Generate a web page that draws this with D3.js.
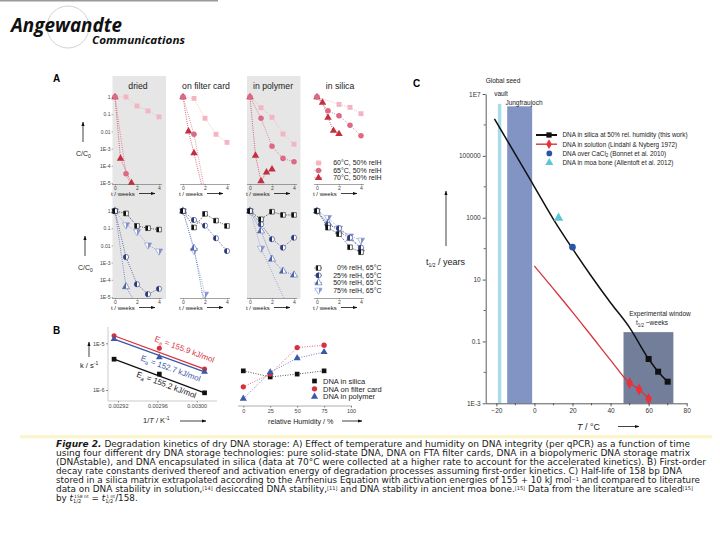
<!DOCTYPE html>
<html>
<head>
<meta charset="utf-8">
<script src="https://cdn.jsdelivr.net/npm/d3@7"></script>
<style>
  body { margin: 0; background: #fff; }
  svg { display: block; font-family: "Liberation Sans", Arial, sans-serif; }
</style>
</head>
<body>
<svg id="fig" width="720" height="540"></svg>
<script>

// ---------- panel A data ----------
const methods = ['dried', 'on filter card', 'in polymer', 'in silica'];
const tempLabels = ['60°C, 50% relH', '65°C, 50% relH', '70°C, 50% relH'];
const humLabels = ['0% relH, 65°C', '25% relH, 65°C', '50% relH, 65°C', '75% relH, 65°C'];
const weekTicks = [0, 2, 4];
const ccTicks = [1, 0.1, 0.01, 1e-3, 1e-4, 1e-5];
const ccTickLabels = ['1', '0.1', '0.01', '1E-3', '1E-4', '1E-5'];

// [method][series] -> weeks / C/C0
const tempWeeks = [
  [[0, 1, 2, 3, 4], [0, 1, 2], [0, 0.5, 1.5]],
  [[0, 1, 2, 3, 4], [0, 1, 2], [0, 0.5, 1, 1.8]],
  [[0, 1, 2, 3, 4], [0, 1, 2, 3, 4], [0, 0.5, 1, 1.5, 2]],
  [[0, 2, 3, 4], [0, 1, 2, 3, 4], [0, 0.5, 1, 1.5, 2]]
];
const tempCC = [
  [[1, 1, 0.30, 0.155, 0.07], [1, 3.5e-5, 1e-6], [1, 2.6e-4, 1e-5]],
  [[1, 0.83, 0.058, 6.8e-3, 2.3e-3], [1, 6.8e-3, 3e-6], [1, 1e-2, 5.5e-4, 4e-6]],
  [[1, 0.24, 0.066, 7.1e-3, 1.8e-3], [1, 0.058, 1.35e-3, 2.7e-4, 1.7e-4], [1, 3.9e-4, 1.3e-5, 4.2e-5, 6.3e-5]],
  [[1, 0.37, 0.25, 0.107], [1, 0.16, 0.081, 0.023, 5.6e-3], [1, 0.47, 0.063, 0.011, 7.1e-3]]
];
const humWeeks = [
  [[0, 1, 2, 3, 4], [0, 1, 2, 3, 4], [0, 1, 2], [0, 1, 2, 3, 4]],
  [[0, 1, 2, 3, 4], [0, 1, 2, 3, 4], [0, 1, 2], [0, 1, 2]],
  [[0, 1, 2, 3, 4], [0, 1, 2, 3, 4], [0, 1, 2, 3, 4], [0, 1, 3.4]],
  [[0, 1, 2, 3, 4], [0, 1, 2, 3, 4], [0, 1, 2, 3, 4], [0, 1, 2, 3, 4]]
];
const humCC = [
  [[1, 0.72, 0.135, 0.1, 0.083], [1, 2.1e-3, 5.5e-5, 1.45e-5, 3e-5], [1, 4e-5, 3e-6], [1, 0.155, 0.063, 0.0105, 4.7e-3]],
  [[1, 0.11, 0.68, 0.275, 0.135], [1, 0.3, 0.14, 0.026, 4.7e-3], [1, 6.8e-3, 2.5e-6], [1, 5e-3, 1.45e-5]],
  [[1, 0.33, 0.91, 0.59, 0.59], [1, 0.17, 0.023, 7.4e-3, 0.028], [1, 0.069, 1.6e-3, 3.2e-4, 1.9e-4], [1, 6.8e-3, 3e-6]],
  [[1, 0.107, 0.045, 7.8e-3, 4e-3], [1, 0.155, 0.1, 0.028, 7.4e-3], [1, 0.2, 0.063, 0.025, 6.3e-3], [1, 0.41, 0.1, 0.035, 0.02]]
];

// ---------- panel B data ----------
const storageB = ['DNA in silica', 'DNA on filter card', 'DNA in polymer'];
const invTemp = [0.002916, 0.002962, 0.003008];
const invTempTicks = [0.00292, 0.00296, 0.00300];
const kSilica = [4.57e-6, 2.19e-6, 8.7e-7];
const kFilter = [1.45e-5, 7.8e-6, 2.8e-6];
const kPolymer = [1.23e-5, 5.0e-6, 2.45e-6];
const eaValues = ['155.2', '155.9', '152.7'];
const relHum = [0, 25, 50, 75];
const relHumTicks = [0, 25, 50, 75, 100];
const kHumSilica = [2.57e-6, 1.9e-6, 2.19e-6, 2.57e-6];
const kHumFilter = [1.17e-6, 2.19e-6, 8.1e-6, 9.1e-6];
const kHumPolymer = [6.5e-7, 2.4e-6, 4.8e-6, 6.5e-6];

// ---------- panel C data ----------
const silicaCurveT = [-21, -10, 0, 10, 20, 30, 40, 50, 60, 65, 70];
const silicaCurveYears = [1.58e6, 1.12e5, 1e4, 891, 100, 12.6, 1.78, 0.28, 0.027, 0.0105, 0.005];
const silicaPtsT = [60, 65, 70];
const silicaPtsYears = [0.027, 0.0105, 0.005];
const solCurveT = [0, 10, 20, 30, 40, 50, 55, 60];
const solCurveYears = [27.5, 5.0, 0.89, 0.15, 0.025, 4.5e-3, 2.8e-3, 1.4e-3];
const solPtsT = [50, 55, 60];
const solPtsYears = [4.5e-3, 2.8e-3, 1.4e-3];
const cacl2T = [20];
const cacl2Years = [112];
const moaT = [12.7];
const moaYears = [980];
const legendC = ['DNA in silica at 50% rel. humidity (this work)', 'DNA in solution (Lindahl & Nyberg 1972)',
  'DNA over CaCl', 'DNA in moa bone (Allentoft et al. 2012)'];
const yearTicks = [1e7, 1e5, 1e3, 10, 0.1, 1e-3];
const yearTickLabels = ['1E7', '100000', '1000', '10', '0.1', '1E-3'];
const yearMinor = [1e6, 1e4, 100, 1, 0.01];
const tempTicks = [-20, 0, 20, 40, 60, 80];
const tempMinor = [-10, 10, 30, 50, 70];

const svg = d3.select('#fig');
const defs = svg.append('defs');

defs.append('marker')
  .attr('id', 'arrow')
  .attr('viewBox', '0 0 10 10')
  .attr('refX', 9).attr('refY', 5)
  .attr('markerWidth', 6).attr('markerHeight', 6)
  .attr('orient', 'auto')
  .append('path')
  .attr('d', 'M0,1.5L10,5L0,8.5z')
  .attr('fill', '#111');

function arrow(x1, y1, x2, y2) {
  svg.append('line')
    .attr('x1', x1).attr('y1', y1).attr('x2', x2).attr('y2', y2)
    .attr('stroke', '#111').attr('stroke-width', 0.8)
    .attr('marker-end', 'url(#arrow)');
}

function halfFill(id, color) {
  const gr = defs.append('linearGradient').attr('id', id)
    .attr('x1', 0).attr('x2', 1).attr('y1', 0).attr('y2', 0);
  gr.append('stop').attr('offset', '50%').attr('stop-color', color);
  gr.append('stop').attr('offset', '50%').attr('stop-color', '#fff');
}

function styleTicks(axis, size, color) {
  axis.selectAll('text').style('font-size', size + 'px').attr('fill', color)
    .style('font-family', '"Liberation Sans", Arial, sans-serif');
}

// ---------- header ----------
svg.append('line').attr('x1', 0).attr('x2', 218).attr('y1', 0.8).attr('y2', 0.8)
  .attr('stroke', '#9a9a9a').attr('stroke-width', 1.5);
svg.append('circle').attr('cx', 68).attr('cy', 27).attr('r', 21)
  .attr('fill', 'none').attr('stroke', '#c8c8c8').attr('stroke-width', 0.8);
svg.append('text').attr('x', 11).attr('y', 31.5)
  .attr('textLength', 111).attr('lengthAdjust', 'spacingAndGlyphs')
  .style('font-family', '"Open Sans", sans-serif').style('font-weight', 'bold').style('font-style', 'italic')
  .style('font-size', '19px').attr('fill', '#111').text('Angewandte');
svg.append('text').attr('x', 92).attr('y', 44)
  .attr('textLength', 93).attr('lengthAdjust', 'spacingAndGlyphs')
  .style('font-family', '"Open Sans", sans-serif').style('font-weight', 'bold').style('font-style', 'italic')
  .style('font-size', '10.5px').attr('fill', '#111').text('Communications');

// panel letters
[['A', 53, 82], ['B', 53, 334], ['C', 413, 87]].forEach((d) => {
  svg.append('text').attr('x', d[1]).attr('y', d[2])
    .style('font-weight', 'bold').style('font-size', '10px').text(d[0]);
});

// ---------- panel A ----------
const colX = [115, 183, 250, 317];

[112.5, 247].forEach((x) => {
  svg.append('rect').attr('x', x).attr('y', 76).attr('width', 53.5).attr('height', 223)
    .attr('fill', '#e6e6e6');
});

methods.forEach((m, c) => {
  svg.append('text').attr('x', colX[c] + 23).attr('y', 89)
    .attr('text-anchor', 'middle').style('font-size', '8.7px').attr('fill', '#222').text(m);
});

const tempStyles = [
  { type: d3.symbolSquare, size: 24, fill: '#f3b5c2', stroke: 'none', line: '#f0a9b8' },
  { type: d3.symbolCircle, size: 24, fill: '#dd6a84', stroke: 'none', line: '#d85c78' },
  { type: d3.symbolTriangle, size: 24, fill: '#c22f3f', stroke: 'none', line: '#c22f3f' }
];
halfFill('hf0', '#111');
halfFill('hf1', '#2c3b7a');
halfFill('hf2', '#4a64ad');
halfFill('hf3', '#8290cc');
const humStyles = [
  { type: d3.symbolSquare, size: 22, fill: 'url(#hf0)', stroke: '#111', line: '#111' },
  { type: d3.symbolCircle, size: 22, fill: 'url(#hf1)', stroke: '#2c3b7a', line: '#2c3b7a' },
  { type: d3.symbolTriangle, size: 22, fill: 'url(#hf2)', stroke: '#4a64ad', line: '#4a64ad' },
  { type: d3.symbolTriangle, size: 22, fill: 'url(#hf3)', stroke: '#8290cc', line: '#8290cc', flip: true }
];

const rowsA = [
  { top: 97, bottom: 183, weeks: tempWeeks, cc: tempCC, styles: tempStyles, labels: tempLabels,
    order: [0, 2, 1], legendY: 163, arrowX: 83 },
  { top: 211, bottom: 297, weeks: humWeeks, cc: humCC, styles: humStyles, labels: humLabels,
    order: [3, 2, 1, 0], legendY: 268, arrowX: 85 }
];

function marker(g, st, x, y) {
  g.append('path')
    .attr('d', d3.symbol().type(st.type).size(st.size)())
    .attr('transform', `translate(${x},${y})` + (st.flip ? ' rotate(180)' : ''))
    .attr('fill', st.fill)
    .attr('stroke', st.stroke).attr('stroke-width', 0.6);
}

rowsA.forEach((row, r) => {
  const y = d3.scaleLog().domain([1e-5, 1]).range([row.bottom, row.top]);

  methods.forEach((m, c) => {
    const x = d3.scaleLinear().domain([0, 4]).range([colX[c], colX[c] + 44]);
    const clipId = `clipA${r}${c}`;
    defs.append('clipPath').attr('id', clipId).append('rect')
      .attr('x', colX[c] - 5).attr('y', row.top - 6)
      .attr('width', 56).attr('height', row.bottom - row.top + 8);
    const plot = svg.append('g').attr('clip-path', `url(#${clipId})`);

    const line = d3.line().x((d) => x(d[0])).y((d) => y(d[1]));

    row.order.forEach((s) => {
      const pts = row.weeks[c][s].map((w, i) => [w, row.cc[c][s][i]]);
      plot.append('path').datum(pts).attr('d', line)
        .attr('fill', 'none').attr('stroke', row.styles[s].line)
        .attr('stroke-width', 0.8).attr('stroke-dasharray', '0.9,1.3');
    });
    row.order.forEach((s) => {
      row.weeks[c][s].forEach((w, i) => {
        marker(plot, row.styles[s], x(w), y(row.cc[c][s][i]));
      });
    });

    const xAxis = svg.append('g')
      .attr('transform', `translate(0,${row.bottom + 1})`)
      .call(d3.axisBottom(x).tickValues(weekTicks).tickFormat(d3.format('d'))
        .tickSize(1.5).tickSizeOuter(0).tickPadding(1));
    xAxis.select('.domain').attr('stroke', '#666').attr('stroke-width', 0.6)
      .attr('d', `M${colX[c] - 3},0.5H${colX[c] + 47}`);
    xAxis.selectAll('.tick line').attr('stroke', '#666').attr('stroke-width', 0.5);
    styleTicks(xAxis, 5, '#444');

    svg.append('text').attr('x', colX[c] - 4).attr('y', row.bottom + 12.5)
      .style('font-size', '6px').attr('fill', '#222').text('t / weeks');
    arrow(colX[c] + 24, row.bottom + 10.5, colX[c] + 40, row.bottom + 10.5);

    if (c === 0) {
      const yAxis = svg.append('g').attr('transform', 'translate(113,0)')
        .call(d3.axisLeft(y).tickValues(ccTicks).tickFormat((d, i) => ccTickLabels[i])
          .tickSize(1.5).tickPadding(1));
      yAxis.select('.domain').remove();
      yAxis.selectAll('.tick line').attr('stroke', '#666').attr('stroke-width', 0.5);
      styleTicks(yAxis, 5, '#444');
    }
  });

  // C/C0 axis title
  const ty = svg.append('text').attr('x', row.arrowX - 7).attr('y', (row.top + row.bottom) / 2 + 16)
    .style('font-size', '7px').attr('fill', '#222');
  ty.append('tspan').text('C/C');
  ty.append('tspan').attr('dy', 1.5).style('font-size', '5px').text('0');
  arrow(row.arrowX, (row.top + row.bottom) / 2 + 2, row.arrowX, (row.top + row.bottom) / 2 - 18);

  // legend inside silica column
  row.labels.forEach((lab, i) => {
    const ly = row.legendY + i * 7.4;
    svg.append('line').attr('x1', 314.5).attr('x2', 322).attr('y1', ly).attr('y2', ly)
      .attr('stroke', row.styles[i].line).attr('stroke-width', 0.8).attr('stroke-dasharray', '0.9,1.3');
    marker(svg, row.styles[i], 318.5, ly);
    svg.append('text').attr('x', 381.5).attr('y', ly + 2.4).attr('text-anchor', 'end')
      .style('font-size', '7px').attr('fill', '#222').text(lab);
  });
});

// ---------- panel B ----------
const xB = d3.scaleLinear().domain([0.00292, 0.00300]).range([118, 196.7]);
const yB = d3.scaleLog().domain([1e-6, 1e-5]).range([390, 343.3]);
const colorsB = ['#111', '#d7313e', '#3c58a7'];
const symB = [d3.symbolSquare, d3.symbolCircle, d3.symbolTriangle];
const kB = [kSilica, kFilter, kPolymer];
const kHum = [kHumSilica, kHumFilter, kHumPolymer];

svg.append('line').attr('x1', 108).attr('x2', 108).attr('y1', 327).attr('y2', 401)
  .attr('stroke', '#aaa').attr('stroke-width', 0.6);
svg.append('line').attr('x1', 108).attr('x2', 217).attr('y1', 401).attr('y2', 401)
  .attr('stroke', '#aaa').attr('stroke-width', 0.6);

const xBAxis = svg.append('g').attr('transform', 'translate(0,401)')
  .call(d3.axisBottom(xB).tickValues(invTempTicks).tickFormat(d3.format('.5f'))
    .tickSize(1.5).tickSizeOuter(0).tickPadding(2));
xBAxis.select('.domain').remove();
xBAxis.selectAll('.tick line').attr('stroke', '#888');
styleTicks(xBAxis, 5.5, '#444');

const yBAxis = svg.append('g').attr('transform', 'translate(108,0)')
  .call(d3.axisLeft(yB).tickValues([1e-5, 1e-6]).tickFormat((d) => (d > 5e-6 ? '1E-5' : '1E-6'))
    .tickSize(2).tickPadding(1.5));
yBAxis.select('.domain').remove();
yBAxis.selectAll('.tick line').attr('stroke', '#888');
styleTicks(yBAxis, 5.5, '#444');

// fits drawn from first to last point, with Ea labels
const eaPlace = [
  { x: 139, off: 8.5 },
  { x: 151, off: -9 },
  { x: 144, off: 11 }
];
[0, 2, 1].forEach((s) => {
  const k = kB[s];
  const x1 = xB(invTemp[0]); const y1 = yB(k[0]);
  const x2 = xB(invTemp[2]); const y2 = yB(k[2]);
  svg.append('line').attr('x1', x1).attr('y1', y1).attr('x2', x2).attr('y2', y2)
    .attr('stroke', colorsB[s]).attr('stroke-width', 1.3);
  const ang = Math.atan2(y2 - y1, x2 - x1);
  const px = eaPlace[s].x;
  const py = y1 + (px - x1) * Math.tan(ang);
  const t = svg.append('text')
    .attr('transform', `translate(${px - Math.sin(ang) * eaPlace[s].off},${py + Math.cos(ang) * eaPlace[s].off}) rotate(${ang * 180 / Math.PI})`)
    .style('font-size', '8px').attr('fill', colorsB[s]);
  t.append('tspan').text('E');
  t.append('tspan').attr('dy', 2).style('font-size', '5.5px').text('a');
  t.append('tspan').attr('dy', -2).text(` = ${eaValues[s]} kJ/mol`);
});
[0, 1, 2].forEach((s) => {
  invTemp.forEach((v, i) => {
    svg.append('path').attr('d', d3.symbol().type(symB[s]).size(s === 0 ? 22 : 20)())
      .attr('transform', `translate(${xB(v)},${yB(kB[s][i])})`)
      .attr('fill', colorsB[s]);
  });
});

const tB = svg.append('text').attr('x', 80).attr('y', 368).style('font-size', '7.5px').attr('fill', '#222');
tB.append('tspan').text('k / s');
tB.append('tspan').attr('dy', -3).style('font-size', '5px').text('-1');
arrow(89, 357, 89, 342);

const tB2 = svg.append('text').attr('x', 143).attr('y', 423).style('font-size', '7.5px').attr('fill', '#222');
tB2.append('tspan').text('1/');
tB2.append('tspan').style('font-style', 'italic').text('T');
tB2.append('tspan').text(' / K');
tB2.append('tspan').attr('dy', -3).style('font-size', '5px').text('-1');
arrow(180, 421, 206, 421);

// humidity plot
const xH = d3.scaleLinear().domain([0, 100]).range([243.3, 351]);
svg.append('line').attr('x1', 238).attr('x2', 352).attr('y1', 406).attr('y2', 406)
  .attr('stroke', '#777').attr('stroke-width', 0.6);
const xHAxis = svg.append('g').attr('transform', 'translate(0,406)')
  .call(d3.axisBottom(xH).tickValues(relHumTicks).tickSize(1.5).tickSizeOuter(0).tickPadding(2));
xHAxis.select('.domain').remove();
xHAxis.selectAll('.tick line').attr('stroke', '#777');
styleTicks(xHAxis, 5.5, '#444');

const lineH = d3.line().x((d) => xH(d[0])).y((d) => yB(d[1]));
[0, 1, 2].forEach((s) => {
  svg.append('path').datum(relHum.map((h, i) => [h, kHum[s][i]])).attr('d', lineH)
    .attr('fill', 'none').attr('stroke', colorsB[s]).attr('stroke-width', 0.8)
    .attr('stroke-dasharray', '0.9,1.6');
});
[0, 1, 2].forEach((s) => {
  relHum.forEach((h, i) => {
    svg.append('path').attr('d', d3.symbol().type(symB[s]).size(22)())
      .attr('transform', `translate(${xH(h)},${yB(kHum[s][i])})`)
      .attr('fill', colorsB[s]);
  });
});
storageB.forEach((lab, i) => {
  const ly = 381 + i * 7.8;
  svg.append('path').attr('d', d3.symbol().type(symB[i]).size(22)())
    .attr('transform', `translate(314.5,${ly})`).attr('fill', colorsB[i]);
  svg.append('text').attr('x', 323).attr('y', ly + 2.7)
    .style('font-size', '7.5px').attr('fill', '#222').text(lab);
});
svg.append('text').attr('x', 268).attr('y', 423.5).style('font-size', '7.2px').attr('fill', '#222')
  .text('relative Humidity / %');
arrow(342, 421, 362, 421);

// ---------- panel C ----------
const xC = d3.scaleLinear().domain([-25.6, 80]).range([485.7, 686.7]);
const yC = d3.scaleLog().domain([1e-3, 1e7]).range([403.3, 94]);

// storage condition bands
const bandFrom = [-19.2, -14.3, 46.8];
const bandTo = [-17.4, -1.2, 73.0];
const bandTop = [4.8e6, 4.0e6, 0.2];
const bandColor = ['#a9dbe8', '#8194c4', '#737e9b'];
bandFrom.forEach((f, i) => {
  svg.append('rect').attr('x', xC(f)).attr('y', yC(bandTop[i]))
    .attr('width', xC(bandTo[i]) - xC(f)).attr('height', yC(1e-3) - yC(bandTop[i]))
    .attr('fill', bandColor[i]);
});

const yCAxis = svg.append('g').attr('transform', `translate(${xC(-25.6)},0)`)
  .call(d3.axisLeft(yC).tickValues(yearTicks).tickFormat((d, i) => yearTickLabels[i])
    .tickSize(3).tickSizeOuter(0).tickPadding(2));
yCAxis.select('.domain').attr('stroke', '#333').attr('stroke-width', 0.8);
yCAxis.selectAll('.tick line').attr('stroke', '#333').attr('stroke-width', 0.8);
styleTicks(yCAxis, 6.5, '#333');
yearMinor.forEach((v) => {
  svg.append('line').attr('x1', xC(-25.6) - 2).attr('x2', xC(-25.6)).attr('y1', yC(v)).attr('y2', yC(v))
    .attr('stroke', '#333').attr('stroke-width', 0.8);
});

const xCAxis = svg.append('g').attr('transform', `translate(0,${yC(1e-3)})`)
  .call(d3.axisBottom(xC).tickValues(tempTicks).tickSize(3).tickSizeOuter(0).tickPadding(2));
xCAxis.select('.domain').attr('stroke', '#333').attr('stroke-width', 0.8);
xCAxis.selectAll('.tick line').attr('stroke', '#333').attr('stroke-width', 0.8);
styleTicks(xCAxis, 6.5, '#333');
tempMinor.forEach((v) => {
  svg.append('line').attr('x1', xC(v)).attr('x2', xC(v)).attr('y1', yC(1e-3)).attr('y2', yC(1e-3) + 2)
    .attr('stroke', '#333').attr('stroke-width', 0.8);
});

const lineC = d3.line().x((d) => xC(d[0])).y((d) => yC(d[1])).curve(d3.curveMonotoneX);
svg.append('path').datum(solCurveT.map((t, i) => [t, solCurveYears[i]])).attr('d', lineC)
  .attr('fill', 'none').attr('stroke', '#d8343c').attr('stroke-width', 1.3);
svg.append('path').datum(silicaCurveT.map((t, i) => [t, silicaCurveYears[i]])).attr('d', lineC)
  .attr('fill', 'none').attr('stroke', '#111').attr('stroke-width', 1.5);

silicaPtsT.forEach((t, i) => {
  svg.append('path').attr('d', d3.symbol().type(d3.symbolSquare).size(36)())
    .attr('transform', `translate(${xC(t)},${yC(silicaPtsYears[i])})`).attr('fill', '#111');
});
solPtsT.forEach((t, i) => {
  svg.append('path').attr('d', d3.symbol().type(d3.symbolDiamond).size(40)())
    .attr('transform', `translate(${xC(t)},${yC(solPtsYears[i])})`).attr('fill', '#e8313a');
});
cacl2T.forEach((t, i) => {
  svg.append('circle').attr('cx', xC(t)).attr('cy', yC(cacl2Years[i])).attr('r', 3.3).attr('fill', '#2855a5');
});
moaT.forEach((t, i) => {
  svg.append('path').attr('d', d3.symbol().type(d3.symbolTriangle).size(38)())
    .attr('transform', `translate(${xC(t)},${yC(moaYears[i])})`).attr('fill', '#5cc6d6');
});

// band labels
[['Global seed', 503, 82.5], ['vault', 501, 96], ['Jungfraujoch', 524, 104.5]].forEach((d) => {
  svg.append('text').attr('x', d[1]).attr('y', d[2]).attr('text-anchor', 'middle')
    .style('font-size', '6.5px').attr('fill', '#222').text(d[0]);
});
svg.append('text').attr('x', 660).attr('y', 315.5).attr('text-anchor', 'middle')
  .style('font-size', '6.5px').attr('fill', '#222').text('Experimental window');
const tw = svg.append('text').attr('x', 652).attr('y', 325).attr('text-anchor', 'middle')
  .style('font-size', '6.5px').attr('fill', '#222');
tw.append('tspan').text('t');
tw.append('tspan').attr('dy', 1.5).style('font-size', '4.5px').text('1/2');
tw.append('tspan').attr('dy', -1.5).text(' ~weeks');

// legend C
const legSym = [d3.symbolSquare, d3.symbolDiamond, d3.symbolCircle, d3.symbolTriangle];
const legCol = ['#111', '#e8313a', '#2855a5', '#5cc6d6'];
legendC.forEach((lab, i) => {
  const ly = 135 + i * 9.2;
  if (i < 2) {
    svg.append('line').attr('x1', 536).attr('x2', 557).attr('y1', ly).attr('y2', ly)
      .attr('stroke', i === 0 ? '#111' : '#d8343c').attr('stroke-width', i === 0 ? 2 : 1.4);
  }
  svg.append('path').attr('d', d3.symbol().type(legSym[i]).size(i === 2 ? 26 : 28)())
    .attr('transform', `translate(${i < 2 ? 549 : 549.3},${ly})`).attr('fill', legCol[i]);
  const t = svg.append('text').attr('x', 562.5).attr('y', ly + 2.3)
    .style('font-size', '6.4px').attr('fill', '#222');
  t.append('tspan').text(lab);
  if (i === 2) {
    t.append('tspan').attr('dy', 1.5).style('font-size', '4.5px').text('2');
    t.append('tspan').attr('dy', -1.5).text(' (Bonnet et al. 2010)');
  }
});

const tC = svg.append('text').attr('x', 426).attr('y', 265).style('font-size', '9px').attr('fill', '#222');
tC.append('tspan').text('t');
tC.append('tspan').attr('dy', 2).style('font-size', '5px').text('1/2');
tC.append('tspan').attr('dy', -2).text('  / years');
arrow(446, 246, 446, 191);

const tC2 = svg.append('text').attr('x', 577).attr('y', 429.5).style('font-size', '9px').attr('fill', '#222');
tC2.append('tspan').style('font-style', 'italic').text('T');
tC2.append('tspan').text(' / °C');
arrow(618, 426.5, 639, 426.5);

// ---------- caption ----------
svg.append('rect').attr('x', 20).attr('y', 435).attr('width', 692).attr('height', 3.5).attr('fill', '#fbf5cf');

const capLines = [
  { end: 690, parts: [['Figure 2.', 'bi'], ['  Degradation kinetics of dry DNA storage: A) Effect of temperature and humidity on DNA integrity (per qPCR) as a function of time']] },
  { end: 690, parts: [['using four different dry DNA storage technologies: pure solid-state DNA, DNA on FTA filter cards, DNA in a biopolymeric DNA storage matrix']] },
  { end: 706, parts: [['(DNAstable), and DNA encapsulated in silica (data at 70°C were collected at a higher rate to account for the accelerated kinetics). B) First-order']] },
  { end: 682, parts: [['decay rate constants derived thereof and activation energy of degradation processes assuming first-order kinetics. C) Half-life of 158 bp DNA']] },
  { end: 700, parts: [['stored in a silica matrix extrapolated according to the Arrhenius Equation with activation energies of 155 + 10 kJ mol'], ['−1', 'sup'], [' and compared to literature']] },
  { end: 693, parts: [['data on DNA stability in solution,'], ['[14]', 'sup'], [' desiccated DNA stability,'], ['[11]', 'sup'], [' and DNA stability in ancient moa bone.'], ['[15]', 'sup'], [' Data from the literature are scaled'], ['[15]', 'sup']] }
];
capLines.forEach((ln, i) => {
  const t = svg.append('text').attr('x', 56).attr('y', 447 + i * 9)
    .attr('textLength', ln.end - 56).attr('lengthAdjust', 'spacingAndGlyphs')
    .style('font-family', '"DejaVu Sans", sans-serif').style('font-size', '8.8px').attr('fill', '#1a1a1a');
  let shifted = false;
  ln.parts.forEach((p) => {
    const sp = t.append('tspan').text(p[0]);
    if (p[1] === 'bi') sp.style('font-weight', 'bold').style('font-style', 'italic');
    if (p[1] === 'sup') { sp.attr('dy', -2.4).style('font-size', '5px'); shifted = true; }
    else if (shifted) { sp.attr('dy', 2.4); shifted = false; }
  });
});
const last = svg.append('text').attr('x', 56).attr('y', 447 + 6 * 9)
  .style('font-family', '"DejaVu Sans", sans-serif').style('font-size', '8.8px').attr('fill', '#1a1a1a');
last.append('tspan').text('by ');
last.append('tspan').style('font-style', 'italic').text('t');
last.append('tspan').attr('dy', 1.5).style('font-size', '5px').text('1/2');
last.append('tspan').attr('dx', -7).attr('dy', -5).style('font-size', '4.5px').text('158 nt');
last.append('tspan').attr('dy', 3.5).text(' = ');
last.append('tspan').style('font-style', 'italic').text('t');
last.append('tspan').attr('dy', 1.5).style('font-size', '5px').text('1/2');
last.append('tspan').attr('dx', -7).attr('dy', -5).style('font-size', '4.5px').text('1 nt');
last.append('tspan').attr('dy', 3.5).text('/158.');

</script>
</body>
</html>
